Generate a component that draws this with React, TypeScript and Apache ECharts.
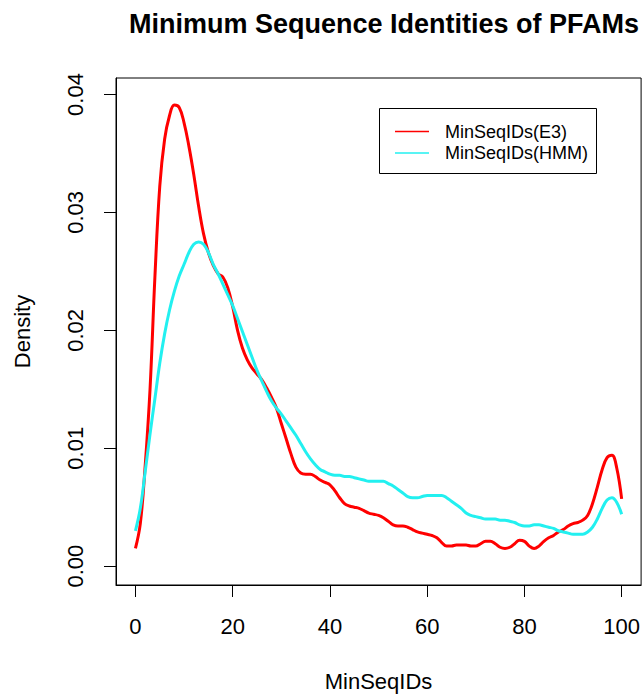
import React, { useEffect, useRef } from "react";
import * as echarts from "echarts";

const TITLE = "Minimum Sequence Identities of PFAMs";
const X_NAME = "MinSeqIDs";
const Y_NAME = "Density";
const SERIES_NAMES = ["MinSeqIDs(E3)", "MinSeqIDs(HMM)"];
const SERIES_COLORS = ["#ff0000", "#22f0f0"];
const X_TICKS = [0, 20, 40, 60, 80, 100];
const Y_TICKS = [0, 0.01, 0.02, 0.03, 0.04];

// x positions 0..100 (MinSeqID %)
const xs: number[] = Array.from({ length: 101 }, (_, i) => i);

const densityE3 = [
  0.0015, 0.0036, 0.0085, 0.015, 0.0245, 0.0322, 0.0362, 0.0382, 0.0391, 0.0389,
  0.0376, 0.0356, 0.0332, 0.0305, 0.0282, 0.0266, 0.0255, 0.0248, 0.0245, 0.0236,
  0.022, 0.02, 0.0185, 0.0175, 0.0168, 0.0163, 0.0158, 0.0151, 0.0143, 0.0134,
  0.0121, 0.0108, 0.0095, 0.0084, 0.0079, 0.0078, 0.0078, 0.0076, 0.0073, 0.0071,
  0.0069, 0.0064, 0.0058, 0.0053, 0.0051, 0.005, 0.0049, 0.0047, 0.0045, 0.0044,
  0.0043, 0.0041, 0.0038, 0.0035, 0.0034, 0.0034, 0.0033, 0.0031, 0.0029, 0.0028,
  0.0027, 0.0026, 0.0024, 0.002, 0.0017, 0.0017, 0.0018, 0.0018, 0.0018, 0.0017,
  0.0017, 0.0019, 0.0021, 0.0021, 0.0019, 0.0016, 0.0015, 0.0016, 0.0019, 0.0022,
  0.0021, 0.0017, 0.0015, 0.0017, 0.0021, 0.0024, 0.0026, 0.0029, 0.0031, 0.0034,
  0.0036, 0.0037, 0.0039, 0.0043, 0.0053, 0.0067, 0.0082, 0.0092, 0.0094, 0.0083,
  0.0057,
];

const densityHMM = [
  0.003, 0.0049, 0.008, 0.0112, 0.0142, 0.0172, 0.0197, 0.0217, 0.0233, 0.0246,
  0.0256, 0.0266, 0.0273, 0.0275, 0.0273, 0.0266, 0.0256, 0.0248, 0.0239, 0.023,
  0.0221, 0.021, 0.0199, 0.0188, 0.0177, 0.0166, 0.0157, 0.0148, 0.014, 0.0134,
  0.0129, 0.0123, 0.0117, 0.0111, 0.0104, 0.0097, 0.0091, 0.0086, 0.0082, 0.008,
  0.0078, 0.0077, 0.0077, 0.0076, 0.0076, 0.0075, 0.0074, 0.0073, 0.0072, 0.0072,
  0.0072, 0.0072, 0.007, 0.0068, 0.0065, 0.0062, 0.0059, 0.0058, 0.0058, 0.0059,
  0.006, 0.006, 0.006, 0.006, 0.0058, 0.0055, 0.0052, 0.0049, 0.0045, 0.0043,
  0.0042, 0.0041, 0.004, 0.004, 0.004, 0.0039, 0.0039, 0.0038, 0.0037, 0.0035,
  0.0034, 0.0034, 0.0035, 0.0035, 0.0034, 0.0033, 0.0032, 0.003, 0.0029, 0.0028,
  0.0027, 0.0027, 0.0027, 0.0029, 0.0033, 0.004, 0.0049, 0.0056, 0.0058, 0.0054,
  0.0044,
];

const FONT = "'Liberation Sans', Arial, Helvetica, sans-serif";

export default function App() {
  const ref = useRef<HTMLDivElement>(null);
  useEffect(() => {
    if (!ref.current) return;
    const chart = echarts.init(ref.current, null, { renderer: "svg" });
    const seriesData = [densityE3, densityHMM];
    const legendTop = 108;
    const legendRowY = [131.5, 153];
    const legendGraphics: any[] = [
      {
        type: "rect",
        shape: { x: 379.5, y: legendTop + 0.5, width: 217, height: 65 },
        style: { fill: "#fff", stroke: "#000", lineWidth: 1 },
        z: 10,
      },
    ];
    SERIES_NAMES.forEach((name, i) => {
      legendGraphics.push({
        type: "line",
        shape: { x1: 395, y1: legendRowY[i], x2: 429, y2: legendRowY[i] },
        style: { stroke: SERIES_COLORS[i], lineWidth: 1.5 },
        z: 11,
      });
      legendGraphics.push({
        type: "text",
        x: 445,
        y: legendRowY[i],
        style: {
          text: name,
          fill: "#000",
          font: `18px ${FONT}`,
          textVerticalAlign: "middle",
          verticalAlign: "middle",
        },
        z: 11,
      });
    });

    chart.setOption({
      animation: false,
      backgroundColor: "#fff",
      textStyle: { fontFamily: FONT },
      title: {
        text: TITLE,
        left: 379,
        textAlign: "center",
        top: 5,
        textStyle: { fontSize: 27, fontWeight: "bold", color: "#000", fontFamily: FONT },
      },
      grid: {
        left: 116,
        right: 1,
        top: 78,
        bottom: 108,
        show: true,
        borderColor: "#000",
        borderWidth: 1,
        containLabel: false,
      },
      xAxis: {
        type: "value",
        min: -4,
        max: 104,
        name: X_NAME,
        nameLocation: "middle",
        nameGap: 85,
        nameTextStyle: { fontSize: 22, color: "#000", fontFamily: FONT },
        axisLine: { show: true, onZero: false, lineStyle: { color: "#000", width: 1 } },
        axisTick: {
          show: true,
          inside: false,
          length: 12,
          customValues: X_TICKS,
          lineStyle: { color: "#000", width: 1 },
        },
        axisLabel: {
          show: true,
          customValues: X_TICKS,
          margin: 30,
          fontSize: 22,
          color: "#000",
          fontFamily: FONT,
          formatter: (v: number) => String(v),
        },
        splitLine: { show: false },
      },
      yAxis: {
        type: "value",
        min: -0.0016,
        max: 0.0414,
        name: Y_NAME,
        nameLocation: "middle",
        nameRotate: 90,
        nameGap: 83,
        nameTextStyle: { fontSize: 22, color: "#000", fontFamily: FONT },
        axisLine: { show: true, onZero: false, lineStyle: { color: "#000", width: 1 } },
        axisTick: {
          show: true,
          inside: false,
          length: 12,
          customValues: Y_TICKS,
          lineStyle: { color: "#000", width: 1 },
        },
        axisLabel: {
          show: true,
          customValues: Y_TICKS,
          rotate: 90,
          margin: 30,
          fontSize: 22,
          color: "#000",
          fontFamily: FONT,
          formatter: (v: number) => v.toFixed(2),
        },
        splitLine: { show: false },
      },
      series: SERIES_NAMES.map((name, i) => ({
        name,
        type: "line",
        data: xs.map((x, j) => [x, seriesData[i][j]]),
        showSymbol: false,
        symbol: "none",
        smooth: 0.4,
        lineStyle: { color: SERIES_COLORS[i], width: 3 },
        itemStyle: { color: SERIES_COLORS[i] },
        z: 3,
      })),
      graphic: legendGraphics,
    });
    return () => chart.dispose();
  }, []);
  return (
    <div
      ref={ref}
      style={{ position: "fixed", left: 0, top: 0, width: 643, height: 697 }}
    />
  );
}
